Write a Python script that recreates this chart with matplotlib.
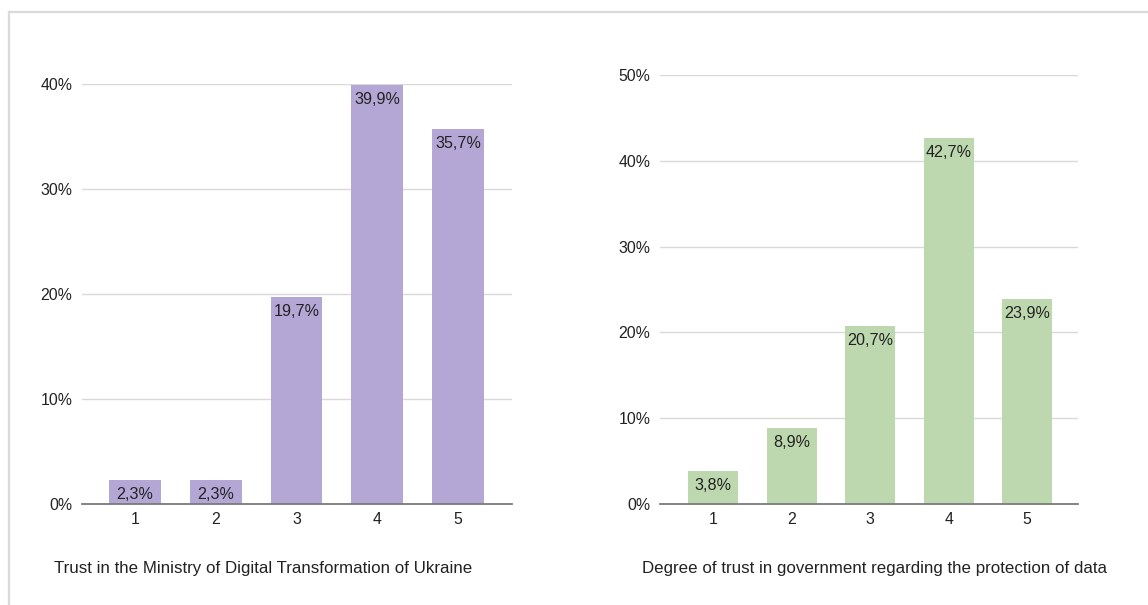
import matplotlib
matplotlib.use("Agg")
import matplotlib.pyplot as plt
from matplotlib.lines import Line2D

plt.rcParams['font.family'] = ['Liberation Sans', 'DejaVu Sans']

# survey answers on a 1-5 scale, share of respondents in percent
categories = [1, 2, 3, 4, 5]
ministry_trust = [2.3, 2.3, 19.7, 39.9, 35.7]
data_trust = [3.8, 8.9, 20.7, 42.7, 23.9]

left_title = "Trust in the Ministry of Digital Transformation of Ukraine"
right_title = "Degree of trust in government regarding the protection of data"

W, H = 1148, 605
fig = plt.figure(figsize=(W / 100, H / 100), dpi=100)


def px_axes(x0, x1, y_top, y_bottom):
    return fig.add_axes([x0 / W, 1 - y_bottom / H, (x1 - x0) / W, (y_bottom - y_top) / H])


def bar_panel(ax, values, color, ymax, xlim):
    ax.bar(categories, values, width=0.64, color=color, zorder=3)
    ax.set_xlim(*xlim)
    ax.set_ylim(0, ymax)
    ticks = list(range(0, ymax + 1, 10))
    ax.set_yticks(ticks)
    ax.set_yticklabels([f"{t}%" for t in ticks])
    ax.set_xticks(categories)
    ax.set_xticklabels([str(c) for c in categories])
    ax.grid(axis='y', color='#d9d9d9', linewidth=1.0, zorder=0)
    for s in ['top', 'right', 'left']:
        ax.spines[s].set_visible(False)
    ax.spines['bottom'].set_color('#7a7a7a')
    ax.spines['bottom'].set_linewidth(1.3)
    ax.spines['bottom'].set_zorder(4)
    ax.tick_params(axis='both', length=0, labelsize=11.4, labelcolor='#222222')
    ax.tick_params(axis='y', pad=7)
    ax.tick_params(axis='x', pad=6)
    for c, v in zip(categories, values):
        ax.annotate(f"{v:.1f}%".replace('.', ','), (c, v), xytext=(0, -5),
                    textcoords='offset points', ha='center', va='top',
                    fontsize=11.6, color='#222222', zorder=5)


ax1 = px_axes(82, 512, 84, 504)
bar_panel(ax1, ministry_trust, '#b4a7d6', 40, (0.344, 5.67))

ax2 = px_axes(660, 1078, 75, 504)
bar_panel(ax2, data_trust, '#bdd7ae', 50, (0.32, 5.65))

fig.text(263 / W, 1 - 568 / H, left_title, ha='center', va='center',
         fontsize=12.2, color='#222222')
fig.text(875 / W, 1 - 568 / H, right_title, ha='center', va='center',
         fontsize=12.2, color='#222222')

# light frame along the top and left edges
fig.add_artist(Line2D([9 / W, 1], [1 - 12 / H, 1 - 12 / H], color='#dadada',
                      linewidth=1.6, transform=fig.transFigure))
fig.add_artist(Line2D([9 / W, 9 / W], [0, 1 - 12 / H], color='#dadada',
                      linewidth=1.6, transform=fig.transFigure))

fig.savefig("out.png", dpi=100, facecolor='white')
